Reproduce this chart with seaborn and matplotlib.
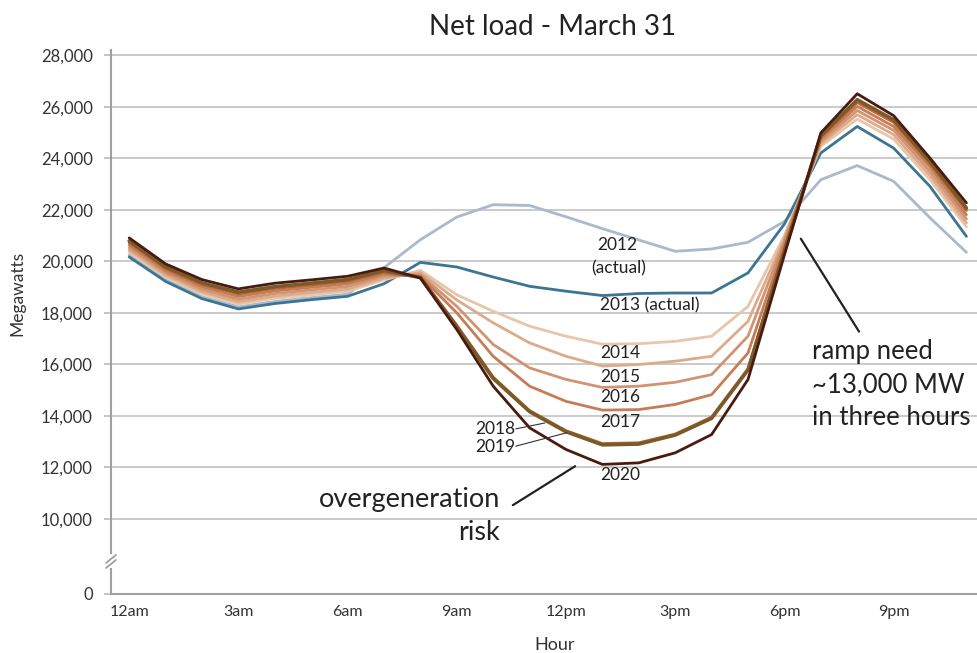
import numpy as np
import pandas as pd
import seaborn as sns
import matplotlib.pyplot as plt

# hourly net load (MW), March 31
hours = list(range(24))
hour_labels = ["12am", "3am", "6am", "9am", "12pm", "3pm", "6pm", "9pm"]
years = ["2012", "2013", "2014", "2015", "2016", "2017", "2018", "2019", "2020"]

load_2012 = [20240, 19290, 18620, 18230, 18440, 18590, 18720, 19750, 20840, 21720, 22200, 22170,
             21730, 21270, 20830, 20390, 20480, 20740, 21550, 23170, 23720, 23110, 21690, 20350]
load_2013 = [20170, 19220, 18550, 18150, 18360, 18510, 18640, 19130, 19960, 19780, 19390, 19030,
             18840, 18670, 18750, 18770, 18770, 19550, 21450, 24210, 25240, 24400, 22910, 20970]
load_2014 = [20355, 19390, 18735, 18345, 18560, 18700, 18835, 19280, 19650, 18700, 18060, 17480,
             17090, 16780, 16800, 16890, 17090, 18250, 21000, 24470, 25530, 24750, 23170, 21340]
load_2015 = [20440, 19465, 18815, 18430, 18645, 18790, 18920, 19350, 19560, 18500, 17610, 16830,
             16310, 15930, 15990, 16120, 16310, 17670, 20900, 24570, 25700, 24920, 23330, 21490]
load_2016 = [20530, 19555, 18910, 18530, 18745, 18890, 19020, 19430, 19480, 18250, 16770, 15860,
             15410, 15100, 15150, 15300, 15600, 17090, 20800, 24660, 25860, 25090, 23490, 21650]
load_2017 = [20630, 19640, 19010, 18635, 18850, 18990, 19125, 19510, 19420, 18000, 16310, 15150,
             14560, 14220, 14240, 14440, 14820, 16440, 20650, 24750, 26020, 25240, 23660, 21810]
load_2018 = [20720, 19720, 19100, 18730, 18945, 19080, 19220, 19580, 19390, 17520, 15500, 14200,
             13420, 12920, 12950, 13290, 13950, 15830, 20500, 24830, 26170, 25400, 23790, 21980]
load_2019 = [20790, 19785, 19165, 18800, 19015, 19150, 19290, 19640, 19370, 17460, 15450, 14160,
             13380, 12870, 12900, 13250, 13900, 15780, 20400, 24880, 26280, 25500, 23880, 22070]
load_2020 = [20910, 19900, 19290, 18930, 19150, 19280, 19420, 19740, 19350, 17350, 15150, 13530,
             12690, 12110, 12170, 12560, 13270, 15410, 20250, 24990, 26510, 25660, 24010, 22270]

colors = ["#aab9cb", "#3c7594", "#e8c6aa", "#dcab8a", "#d19472", "#c67d57",
          "#bd6533", "#7a5a2a", "#4a1a0e"]

series = [load_2012, load_2013, load_2014, load_2015, load_2016,
          load_2017, load_2018, load_2019, load_2020]
df = pd.DataFrame({
    "hour": hours * len(years),
    "year": [y for y in years for _ in hours],
    "mw": [v for s in series for v in s],
})

# broken y axis: everything under 10,000 squeezed
K = 0.2924


def fwd(v):
    v = np.asarray(v, dtype=float)
    return np.where(v >= 10000, v, 10000 - (10000 - v) * K)


def inv(u):
    u = np.asarray(u, dtype=float)
    return np.where(u >= 10000, u, 10000 - (10000 - u) / K)


sns.set_theme(style="white")
plt.rcParams["font.family"] = ["Lato", "DejaVu Sans"]

fig = plt.figure(figsize=(9.77, 6.53), dpi=100)
ax = fig.add_axes([0.1136, 0.0904, 0.8942, 0.8326])

sns.lineplot(data=df, x="hour", y="mw", hue="year", hue_order=years,
             palette=dict(zip(years, colors)), linewidth=2.0, legend=False, ax=ax)
for ln, yr in zip(ax.lines, years):
    if yr == "2019":
        ln.set_linewidth(2.6)

ax.set_yscale("function", functions=(fwd, inv))
ax.set_ylim(0, 28200)
ax.set_xlim(-0.5, 23.5)

yticks = [0] + list(range(10000, 28001, 2000))
ax.set_yticks(yticks, [f"{v:,}" for v in yticks])
ax.set_xticks([0, 3, 6, 9, 12, 15, 18, 21], hour_labels)
ax.set_xticks(np.arange(-0.5, 24, 1), minor=True)
ax.tick_params(axis="x", which="major", length=0, pad=8, labelsize=11.5, labelcolor="#333333")
ax.tick_params(axis="x", which="minor", length=4, width=1.2, color="#999999", direction="out")
ax.tick_params(axis="y", length=5, width=1.2, color="#bbbbbb", pad=8, labelsize=12,
               labelcolor="#333333", left=True)

ax.yaxis.grid(True, color="#c6c6c6", linewidth=1.3)
ax.set_axisbelow(True)
for side in ["top", "right"]:
    ax.spines[side].set_visible(False)
for side in ["left", "bottom"]:
    ax.spines[side].set_color("#a0a0a0")
    ax.spines[side].set_linewidth(1.5)

ax.set_xlabel("Hour", fontsize=13, color="#333333", va="center")
ax.xaxis.set_label_coords(0.508, -0.094)
ax.set_ylabel("Megawatts", fontsize=12.5, color="#333333", va="center")
ax.yaxis.set_label_coords(-0.107, 0.552)

fig.text(553 / 977, 1 - 27 / 653, "Net load - March 31", ha="center", va="center",
         fontsize=20, color="#222222")


# axis break marks, in pixel offsets from the spine
def px(x, y):
    return (x - 111) / 873.6, (594 - y) / 543.7


ax.plot(*zip(px(111, 556), px(111, 566)), transform=ax.transAxes, color="white",
        linewidth=3, clip_on=False, zorder=5)
for dy in (0, 5):
    ax.plot(*zip(px(106, 563 + dy), px(116, 555 + dy)), transform=ax.transAxes,
            color="#999999", linewidth=1.2, clip_on=False, zorder=6)

# year labels
lab = dict(fontsize=12.5, color="#222222", ha="center", va="center")
ax.text(13.40, 20650, "2012", **lab)
ax.text(13.45, 19720, "(actual)", **lab)
ax.text(14.31, 18280, "2013 (actual)", **lab)
ax.text(13.48, 16420, "2014", **lab)
ax.text(13.50, 15520, "2015", **lab)
ax.text(13.50, 14710, "2016", **lab)
ax.text(13.48, 13740, "2017", **lab)
ax.text(13.48, 11680, "2020", **lab)
ax.text(10.60, 13470, "2018", fontsize=12.5, color="#222222", ha="right", va="center")
ax.text(10.60, 12800, "2019", fontsize=12.5, color="#222222", ha="right", va="center")
ax.plot([10.62, 11.42], [13490, 13720], color="#333333", linewidth=0.8)
ax.plot([10.62, 12.02], [12820, 13340], color="#333333", linewidth=0.8)

# callouts
big = dict(transform=ax.transAxes, fontsize=19.5, color="#222222", va="center")
ax.text(*px(500, 500), "overgeneration", ha="right", **big)
ax.text(*px(500, 533), "risk", ha="right", **big)
ax.plot([10.54, 12.25], [10526, 12040], color="#222222", linewidth=1.6)

ramp = dict(transform=ax.transAxes, fontsize=18.5, color="#222222", va="center", ha="left")
ax.text(*px(812, 352), "ramp need", **ramp)
ax.text(*px(812, 385), "~13,000 MW", **ramp)
ax.text(*px(812, 418), "in three hours", **ramp)
ax.plot([18.45, 20.05], [20880, 17270], color="#222222", linewidth=1.6)

fig.savefig("out.png", dpi=100)
